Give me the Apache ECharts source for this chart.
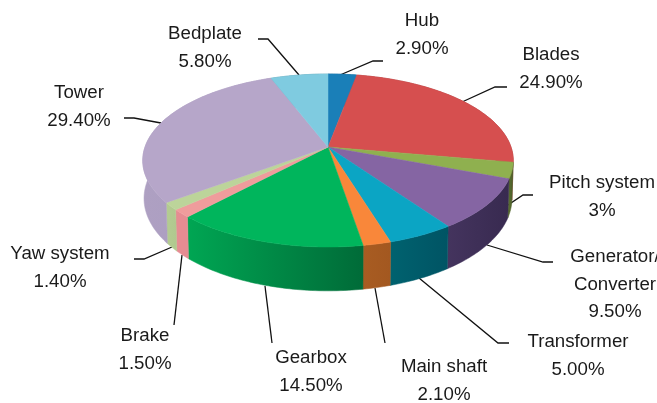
<!DOCTYPE html>
<html>
<head>
<meta charset="utf-8">
<style>html,body{margin:0;padding:0;background:#fff}#c{width:657px;height:403px;overflow:hidden}</style>
<script src="https://cdn.jsdelivr.net/npm/echarts@6/dist/echarts.min.js"></script>
</head>
<body>
<div id="c"></div>
<script>
// ---- data ----
var categories = ['Hub','Blades','Pitch system','Generator/\nConverter','Transformer','Main shaft','Gearbox','Brake','Yaw system','Tower','Bedplate'];
var shares = [2.9,24.9,3,9.5,5,2.1,14.5,1.5,1.4,29.4,5.8];
var shareLabels = ['2.90%','24.90%','3%','9.50%','5.00%','2.10%','14.50%','1.50%','1.40%','29.40%','5.80%'];

// ---- styles ----
var topColors = ['#1a7fb8','#d64f4f','#8fb04f','#8565a3','#0ba5c4','#f9873a','#00b55c','#ef9c9c','#bcd49a','#b6a6c9','#7fcbe0'];
var sideLeft  = ['#14618c','#a03a3a','#5d7233','#44345e','#00626f','#a85c22','#00a653','#e68c92','#b4cc92','#aea0c2','#5f98a8'];
var sideRight = ['#14618c','#a03a3a','#4a5c28','#382a50','#005464','#a35820','#006b38','#e68c92','#b0c88e','#a89ac0','#5f98a8'];

// ---- layout: perspective disc ----
var cx = 328, cy = 147, Rx = 183, Ry = 84.4, k = 0.156, depth = 37, shrink = 0.993;
var lblFont = 18.7, lineH = 27.5;
var labelX = [422,551,602,615,578,444,311,145,60,79,205];
var labelY = [21,55,183,257,342,367,358,336,254,93,34];
var leaders = [
  [[340,75],[373,61],[383,61]],
  [[462,102],[495,87],[507,87]],
  [[505,207],[523,195],[533,195]],
  [[487,245],[543,262],[553,262]],
  [[419,278],[498,343],[509,343]],
  [[375,288],[385,343]],
  [[265,286],[272,343]],
  [[182,255],[174,325]],
  [[172,247],[144,259],[134,259]],
  [[161,123],[134,118],[124,118]],
  [[299,75],[268,39],[258,39]]
];

function project(deg, lower) {
  var a = deg * Math.PI / 180, u = Math.sin(a), v = -Math.cos(a);
  var s = 1 / (1 - k * v);
  if (lower) return [cx + Rx * u * s * shrink, cy + Ry * v * s + depth * s];
  return [cx + Rx * u * s, cy + Ry * v * s];
}
var total = shares.reduce(function (p, c) { return p + c; }, 0);
var starts = [], acc = 0;
shares.forEach(function (v) { starts.push(acc / total * 360); acc += v; });

function arc(i, lower) {
  var a0 = starts[i], a1 = a0 + shares[i] / total * 360, pts = [];
  var n = Math.max(2, Math.ceil(a1 - a0));
  for (var j = 0; j <= n; j++) pts.push(project(a0 + (a1 - a0) * j / n, lower));
  return pts;
}
function renderSide(params) {
  var i = params.dataIndex, up = arc(i, false), lo = arc(i, true).reverse();
  var xs = up.concat(lo).map(function (p) { return p[0]; });
  var c0 = sideLeft[i], c1 = sideRight[i];
  var grad = { type: 'linear', x: Math.min.apply(null, xs), y: 0, x2: Math.max.apply(null, xs), y2: 0, global: true,
    colorStops: [{ offset: 0, color: c0 }, { offset: 1, color: c1 }] };
  return { type: 'polygon', shape: { points: up.concat(lo) }, style: { fill: grad, stroke: grad, lineWidth: 0.5 } };
}
function renderTop(params) {
  var i = params.dataIndex, pts = [[cx, cy]].concat(arc(i, false));
  return { type: 'polygon', shape: { points: pts }, style: { fill: topColors[i], stroke: topColors[i], lineWidth: 0.5 } };
}

var graphics = [];
categories.forEach(function (name, i) {
  var text = name + '\n' + shareLabels[i];
  graphics.push({ type: 'polyline', silent: true, shape: { points: leaders[i] },
    style: { stroke: '#111', lineWidth: 1.3, fill: null } });
  graphics.push({ type: 'text', silent: true, x: labelX[i], y: labelY[i] - lineH / 2,
    style: { text: text, fill: '#1a1a1a', font: lblFont + 'px "Liberation Sans", Arial, sans-serif',
      lineHeight: lineH, align: 'center', verticalAlign: 'top' } });
});

var seriesData = categories.map(function (n, i) { return { name: n, value: shares[i] }; });
var chart = echarts.init(document.getElementById('c'), null, { renderer: 'canvas' });
chart.setOption({
  animation: false,
  backgroundColor: '#fff',
  series: [
    { type: 'custom', coordinateSystem: 'none', z: 1, silent: true, renderItem: renderSide, data: seriesData },
    { type: 'custom', coordinateSystem: 'none', z: 2, silent: true, renderItem: renderTop, data: seriesData }
  ],
  graphic: graphics
});
</script>
</body>
</html>
